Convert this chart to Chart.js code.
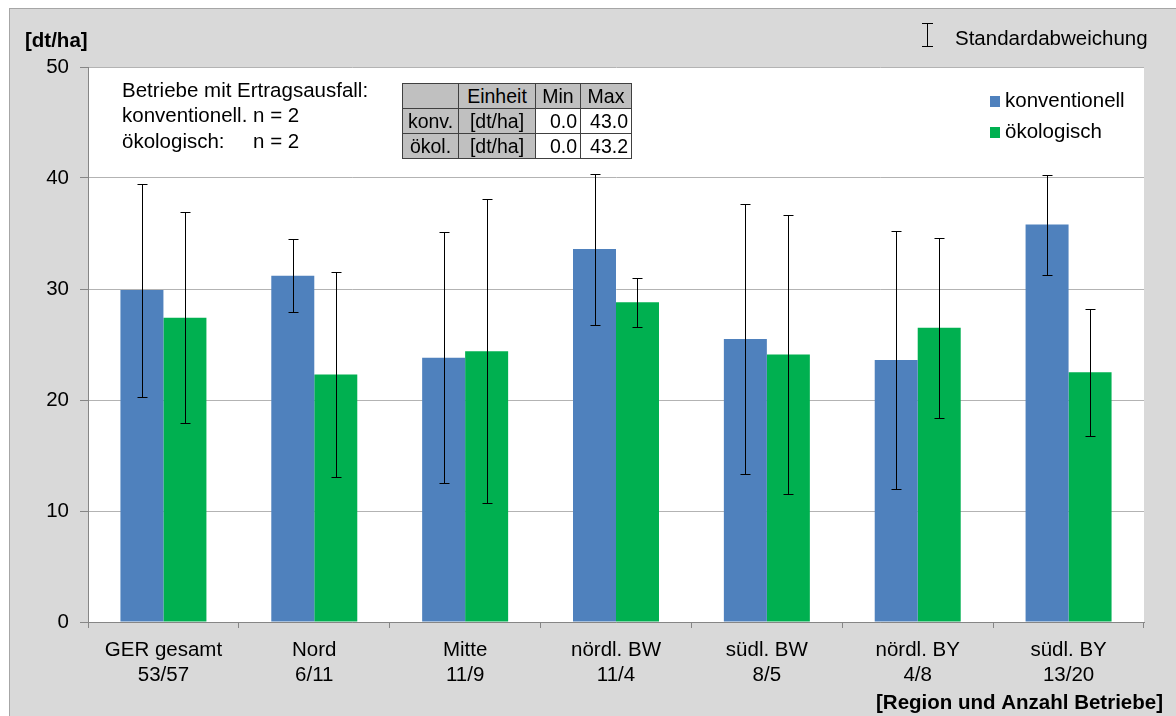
<!DOCTYPE html>
<html><head><meta charset="utf-8">
<script src="https://cdn.jsdelivr.net/npm/chart.js@4/dist/chart.umd.min.js"></script>
<style>
html,body{margin:0;padding:0;background:#fff;}
#wrap{position:relative;width:1176px;height:716px;overflow:hidden;font-family:"Liberation Sans",Arial,sans-serif;}
#frame{position:absolute;left:9px;top:8px;width:1180px;height:720px;background:#d9d9d9;border:1px solid #a6a6a6;}
canvas{position:absolute;left:0;top:0;}
#tbl{position:absolute;left:402px;top:83px;border-collapse:collapse;table-layout:fixed;width:229px;font-size:19.5px;color:#000;}
#tbl td{border:1px solid #404040;background:#c0c0c0;padding:0 3px;height:24px;line-height:24px;text-align:center;white-space:nowrap;overflow:hidden;}
#tbl td.v{background:#fff;text-align:right;}
</style></head><body>
<div id="wrap">
<div id="frame"></div>
<canvas id="c" width="1176" height="716"></canvas>
<table id="tbl">
<colgroup><col style="width:56px"><col style="width:77px"><col style="width:45px"><col style="width:51px"></colgroup>
<tr><td></td><td>Einheit</td><td>Min</td><td>Max</td></tr>
<tr><td>konv.</td><td>[dt/ha]</td><td class="v">0.0</td><td class="v">43.0</td></tr>
<tr><td>ökol.</td><td>[dt/ha]</td><td class="v">0.0</td><td class="v">43.2</td></tr>
</table>
</div>
<script>
const categories = [["GER gesamt","53/57"],["Nord","6/11"],["Mitte","11/9"],["nördl. BW","11/4"],["südl. BW","8/5"],["nördl. BY","4/8"],["südl. BY","13/20"]];
const konv   = [29.9, 31.2, 23.8, 33.6, 25.5, 23.6, 35.8];
const konvSD = [9.6, 3.3, 11.3, 6.8, 12.2, 11.6, 4.5];
const oeko   = [27.4, 22.3, 24.4, 28.8, 24.1, 26.5, 22.5];
const oekoSD = [9.5, 9.2, 13.7, 2.2, 12.6, 8.1, 5.7];
const yTicks = [0, 10, 20, 30, 40, 50];
const seriesNames = ["konventionell", "ökologisch"];
const noteLines = ["Betriebe mit Ertragsausfall:", "konventionell. n = 2", "ökologisch:     n = 2"];

const FONT = '"Liberation Sans", Arial, sans-serif';
const FS = 20.5;
const sds = [konvSD, oekoSD];

const bgPlugin = {
  id: 'bg',
  beforeDraw(chart) {
    const a = chart.chartArea, ctx = chart.ctx;
    ctx.save(); ctx.fillStyle = '#fff';
    ctx.fillRect(a.left, a.top, a.right - a.left, a.bottom - a.top);
    ctx.restore();
  }
};

const errPlugin = {
  id: 'err',
  afterDatasetsDraw(chart) {
    const ctx = chart.ctx, y = chart.scales.y;
    ctx.save();
    ctx.strokeStyle = '#000'; ctx.lineWidth = 1;
    chart.data.datasets.forEach((ds, di) => {
      const meta = chart.getDatasetMeta(di);
      meta.data.forEach((bar, i) => {
        const v = ds.data[i], sd = sds[di][i];
        const x = Math.round(bar.x) + 0.5;
        const yt = Math.round(y.getPixelForValue(v + sd)) + 0.5;
        const yb = Math.round(y.getPixelForValue(v - sd)) + 0.5;
        ctx.beginPath();
        ctx.moveTo(x, yt); ctx.lineTo(x, yb);
        ctx.moveTo(x - 5, yt); ctx.lineTo(x + 5, yt);
        ctx.moveTo(x - 5, yb); ctx.lineTo(x + 5, yb);
        ctx.stroke();
      });
    });
    ctx.restore();
  }
};

const textPlugin = {
  id: 'texts',
  afterDraw(chart) {
    const ctx = chart.ctx;
    ctx.save();
    ctx.fillStyle = '#000';
    ctx.textBaseline = 'middle';
    ctx.font = 'bold ' + FS + 'px ' + FONT;
    ctx.textAlign = 'left';
    ctx.fillText('[dt/ha]', 25, 41);
    ctx.textAlign = 'right';
    ctx.fillText('[Region und Anzahl Betriebe]', 1163, 703);
    ctx.textAlign = 'left';
    ctx.font = FS + 'px ' + FONT;
    ctx.fillText('Standardabweichung', 955, 39);
    // std icon
    ctx.strokeStyle = '#000'; ctx.lineWidth = 1;
    ctx.beginPath();
    ctx.moveTo(927.5, 23); ctx.lineTo(927.5, 47);
    ctx.moveTo(922, 23.5); ctx.lineTo(933, 23.5);
    ctx.moveTo(922, 46.5); ctx.lineTo(933, 46.5);
    ctx.stroke();
    // notes
    noteLines.forEach((t, i) => ctx.fillText(t, 122, 91 + i * 25.5));
    // legend
    chart.data.datasets.forEach((ds, i) => {
      const yy = 101 + i * 31;
      ctx.fillStyle = ds.backgroundColor;
      ctx.fillRect(990, yy - 5, 10, 11);
      ctx.fillStyle = '#000';
      ctx.fillText(seriesNames[i], 1005, yy);
    });
    ctx.restore();
  }
};

new Chart(document.getElementById('c'), {
  type: 'bar',
  data: {
    labels: categories,
    datasets: [
      { label: seriesNames[0], data: konv, backgroundColor: '#4f81bd', categoryPercentage: 0.57, barPercentage: 1.0 },
      { label: seriesNames[1], data: oeko, backgroundColor: '#00b050', categoryPercentage: 0.57, barPercentage: 1.0 }
    ]
  },
  options: {
    responsive: false,
    animation: false,
    layout: { padding: { top: 67, right: 32, left: 0, bottom: 0 } },
    plugins: { legend: { display: false }, tooltip: { enabled: false } },
    scales: {
      x: {
        offset: true,
        grid: { display: true, drawOnChartArea: false, drawTicks: true, tickLength: 6, tickColor: '#868686', offset: true },
        border: { color: '#868686' },
        ticks: { color: '#000', font: { family: FONT, size: FS, lineHeight: 1.22 }, padding: 10, maxRotation: 0, autoSkip: false },
        afterFit(s) { s.height = 94; }
      },
      y: {
        min: 0, max: 50,
        afterBuildTicks(s) { s.ticks = yTicks.map(v => ({ value: v })); },
        grid: { color: '#b3b3b3', tickColor: '#868686', tickLength: 8 },
        border: { color: '#868686' },
        ticks: { color: '#000', font: { family: FONT, size: FS }, padding: 11 },
        afterFit(s) { s.width = 88; }
      }
    }
  },
  plugins: [bgPlugin, errPlugin, textPlugin]
});
</script>
</body></html>
